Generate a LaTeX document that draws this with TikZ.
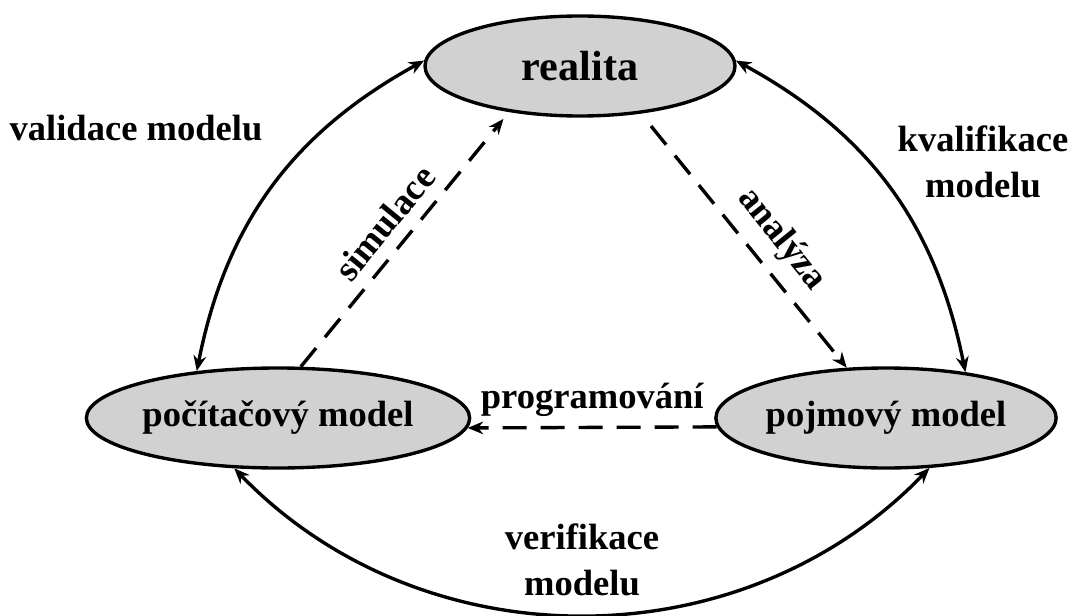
\documentclass[tikz,border=0pt]{standalone}
\usepackage{fontspec}
\setmainfont{Liberation Serif}
\usetikzlibrary{arrows.meta}
\tikzset{>={Stealth[length=11pt,width=9pt]}}
\usetikzlibrary{shapes}
\colorlet{modelfill}{black!18}

\begin{document}
\begin{tikzpicture}[
    model/.style={ellipse, draw, line width=2.4pt, fill=modelfill,
      minimum width=7.75cm, minimum height=2.5cm, inner sep=0pt},
    link/.style={line width=2.4pt, <->},
    dashlink/.style={line width=2.4pt, ->, dash pattern=on 0.6cm off 0.35cm},
    lbl/.style={font=\fontsize{26}{33}\selectfont\bfseries, align=center}]
    \useasboundingbox (0,0) rectangle (26.8,15.375);
    \node[model, font=\fontsize{30}{36}\selectfont\bfseries] (real) at (14.5,13.725) {realita};
    \node[model, lbl] (pcm) at (6.95,4.925) {počítačový model};
    \node[model, lbl] (pm) at (22.15,4.925) {pojmový model};
    \node[lbl] (val) at (3.4,12.175) {validace modelu};
    \node[lbl] (kval) at (24.575,11.325) {kvalifikace\\modelu};
    \node[lbl] (ver) at (14.55,1.375) {verifikace\\modelu};
    \draw[link] (pcm.150) to[bend left=25] (real.178);
    \draw[link] (real.2) to[bend left=25] (pm.30);
    \draw[link] (pcm.229) to[bend right=46] (pm.311);
    \draw[dashlink, shorten >=0.22cm] (pcm.66) -- (real.213)
      node[midway, above=5pt, sloped, lbl] {simulace};
    \draw[dashlink, shorten <=0.4cm] (real.322) -- (pm.128)
      node[pos=0.57, above=5pt, sloped, lbl] {analýza};
    \draw[dashlink] (pm.183) -- (pcm.357)
      node[midway, above=3pt, lbl] {programování};
\end{tikzpicture}
\end{document}
